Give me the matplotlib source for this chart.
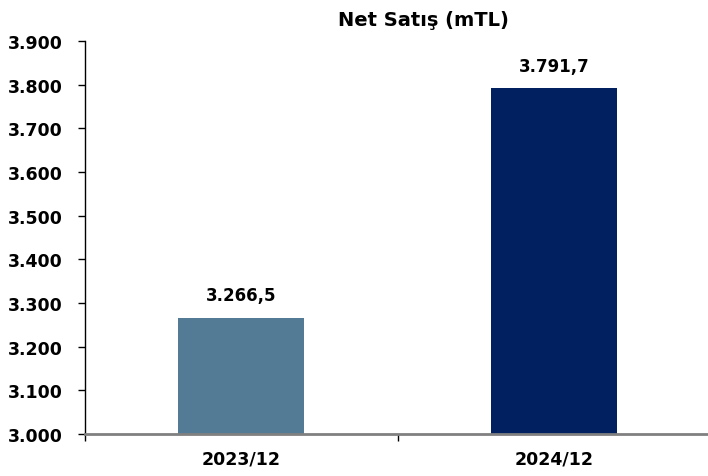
import numpy as np
import matplotlib.pyplot as plt
from matplotlib.ticker import FuncFormatter, MultipleLocator, FixedLocator

categories = ['2023/12', '2024/12']
net_sales = [3266.5, 3791.7]
bar_colors = ['#547b95', '#002060']
title = 'Net Satış (mTL)'


def tr_thousands(v, pos=None):
    return '{:,.0f}'.format(v).replace(',', '.')


def tr_decimal(v):
    s = '{:,.1f}'.format(v)
    return s.replace(',', 'X').replace('.', ',').replace('X', '.')


plt.rcParams['font.family'] = ['DejaVu Sans']
plt.rcParams['font.weight'] = 'bold'

fig = plt.figure(figsize=(7.08, 4.77), dpi=100)
ax = fig.add_axes([84.5/708, 42/477, 626/708, 393/477])

x = np.arange(len(categories))
ax.bar(x, net_sales, width=0.405, color=bar_colors, zorder=2)

for xi, v in zip(x, net_sales):
    ax.annotate(tr_decimal(v), (xi, v), xytext=(0, 16), textcoords='offset points',
                ha='center', va='center', fontsize=12, fontweight='bold')

ax.set_xlim(-0.5, len(categories) - 0.5)
ax.set_ylim(3000, 3900)
ax.yaxis.set_major_locator(MultipleLocator(100))
ax.yaxis.set_major_formatter(FuncFormatter(tr_thousands))

ax.set_xticks(x)
ax.set_xticklabels(categories)
ax.xaxis.set_minor_locator(FixedLocator(np.arange(-0.5, len(categories), 1.0)))
ax.tick_params(axis='x', which='major', length=0, pad=11, labelsize=12.5)
ax.tick_params(axis='x', which='minor', length=5, width=1, color='black', direction='out')
ax.tick_params(axis='y', length=5, width=1, pad=11, labelsize=12.5, direction='out')
for lab in ax.get_xticklabels() + ax.get_yticklabels():
    lab.set_fontweight('bold')

for side in ['top', 'right']:
    ax.spines[side].set_visible(False)
ax.spines['left'].set_color('black')
ax.spines['left'].set_linewidth(1)
ax.spines['bottom'].set_color('#808080')
ax.spines['bottom'].set_linewidth(2)
ax.spines['bottom'].set_zorder(3)

fig.text(423/708, 1 - 20/477, title, ha='center', va='center',
         fontsize=14, fontweight='bold')

plt.savefig('out.png', dpi=100)
